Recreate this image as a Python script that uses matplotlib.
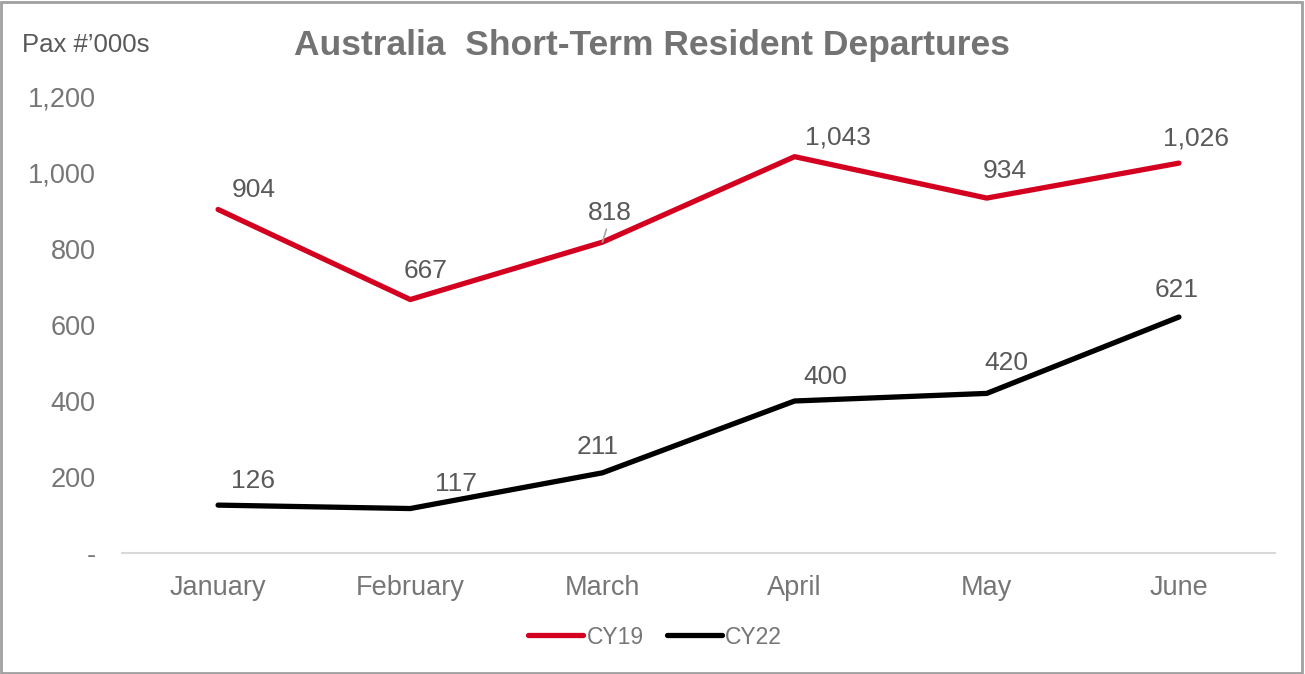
import matplotlib
matplotlib.use("Agg")
import matplotlib.pyplot as plt
from matplotlib.patches import Rectangle

# -------- data --------
months = ["January", "February", "March", "April", "May", "June"]
cy19 = [904, 667, 818, 1043, 934, 1026]
cy22 = [126, 117, 211, 400, 420, 621]
yticks = [0, 200, 400, 600, 800, 1000, 1200]

# label offsets (pixels, x right / y up) to mimic the Excel placement
off19 = [(36, 19), (15, 29), (7, 29), (43, 19), (18, 27), (17, 25)]
off22 = [(35, 24), (46, 25), (-5, 26), (31, 24), (20, 30), (-2, 27)]

grey = "#595959"
tgrey = "#767676"
red = "#D4001F"
plt.rcParams["font.family"] = ["Liberation Sans", "DejaVu Sans"]

fig = plt.figure(figsize=(13.05, 6.74), dpi=100)
ax = fig.add_axes([122 / 1305, 1 - 553 / 674, (1275 - 122) / 1305, (553 - 97) / 674])

x = range(len(months))
ax.plot(x, cy19, color=red, lw=3.8, solid_capstyle="round", label="CY19")
ax.plot(x, cy22, color="black", lw=3.8, solid_capstyle="round", label="CY22")

for vals, offs in [(cy19, off19), (cy22, off22)]:
    for i, v in enumerate(vals):
        dx, dy = offs[i]
        ax.annotate(f"{v:,}", (i, v), xytext=(dx * 0.72, dy * 0.72),
                    textcoords="offset points", ha="center", va="center",
                    fontsize=19, color=grey)

# small leader line at March CY19
ax.annotate("", (2, cy19[2]), xytext=(4 * 0.72, 13 * 0.72), textcoords="offset points",
            arrowprops=dict(arrowstyle="-", color="#a6a6a6", lw=1.2, shrinkA=0, shrinkB=0))

ax.set_xlim(-0.5, 5.5)
ax.set_ylim(0, 1200)
ax.set_xticks(list(x))
ax.set_xticklabels(months)
ax.set_yticks(yticks)
ax.set_yticklabels(["-" if t == 0 else f"{t:,}" for t in yticks])
ax.tick_params(axis="both", length=0, labelsize=19.5, labelcolor=tgrey)
ax.tick_params(axis="y", pad=19)
ax.tick_params(axis="x", pad=16)
for s in ["top", "right", "left"]:
    ax.spines[s].set_visible(False)
ax.spines["bottom"].set_color("#d9d9d9")
ax.spines["bottom"].set_linewidth(1.5)

fig.text(652 / 1305, 1 - 45 / 674, "Australia  Short-Term Resident Departures",
         ha="center", va="center", fontsize=25.5, fontweight="bold", color="#737373")
fig.text(22 / 1305, 1 - 45 / 674, "Pax #\u2019000s", ha="left", va="center",
         fontsize=18.5, color=grey)

leg = fig.legend(loc="center", bbox_to_anchor=(655 / 1305, 1 - 637 / 674), ncol=2,
                 frameon=False, fontsize=16.5, handlelength=2.4, handletextpad=0.15,
                 columnspacing=1.0)
for t in leg.get_texts():
    t.set_color(tgrey)

fig.patches.append(Rectangle((0.001, 0.002), 0.997, 0.995, transform=fig.transFigure,
                             fill=False, edgecolor="#a0a0a0", lw=2))

fig.savefig("out.png", dpi=100)
